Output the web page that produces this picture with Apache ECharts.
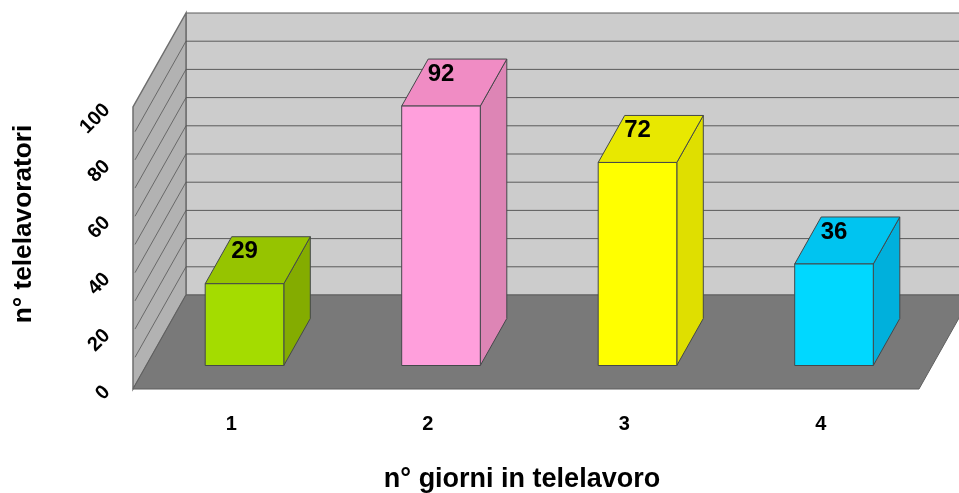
<!DOCTYPE html>
<html><head><meta charset="utf-8">
<style>html,body{margin:0;padding:0;background:#fff}#c{width:959px;height:493px}</style>
<script src="https://cdn.jsdelivr.net/npm/echarts@6/dist/echarts.min.js"></script>
</head><body><div id="c"></div>
<script>
const categories = ['1','2','3','4'];
const values = [29,92,72,36];
const frontColors = ['#a4dc00','#ff9fdc','#ffff00','#00d8ff'];
const topColors = ['#96c400','#f08cc4','#e8e800','#00c4f0'];
const sideColors = ['#84ac00','#dd85b5','#dfdf00','#00b0dc'];
const wallLevels = [0,10,20,30,40,50,60,70,80,90,100];
const xTitle = 'n° giorni in telelavoro';
const yTitle = 'n° telelavoratori';
const FONT = '"Liberation Sans", Arial, sans-serif';
const DX = 53, DY = 94;           // oblique projection of the full depth
const EDGE = '#44484a';

const chart = echarts.init(document.getElementById('c'), null, {renderer:'canvas'});

function renderWalls(params, api){
  const band = api.size([1,0])[0];
  const x0 = api.coord([0,0])[0]-band/2;
  const x1 = api.coord([3,0])[0]+band/2;
  const y0 = api.coord([0,0])[1];
  const yT = api.coord([0,100])[1];
  const kids = [];
  // back wall
  kids.push({type:'polygon',shape:{points:[[x0+DX,y0-DY],[x1+DX,y0-DY],[x1+DX,yT-DY],[x0+DX,yT-DY]]},style:{fill:'#cccccc',stroke:'#5a5a5a',lineWidth:1}});
  // left wall
  kids.push({type:'polygon',shape:{points:[[x0,y0],[x0+DX,y0-DY],[x0+DX,yT-DY],[x0,yT]]},style:{fill:'#b2b2b2',stroke:'#6e6e6e',lineWidth:1.5}});
  // grid lines
  wallLevels.forEach(v=>{
    const y = api.coord([0,v])[1];
    if(v>0 && v<100){
      kids.push({type:'line',shape:{x1:x0+DX,y1:y-DY,x2:x1+DX,y2:y-DY},style:{stroke:'#5a5a5a',lineWidth:1}});
      kids.push({type:'line',shape:{x1:x0+DX,y1:y-DY,x2:x0+2,y2:y-2*DY/DX},style:{stroke:'#555',lineWidth:0.8}});
    }
  });
  // floor
  kids.push({type:'polygon',shape:{points:[[x0,y0],[x1,y0],[x1+DX,y0-DY],[x0+DX,y0-DY]]},style:{fill:'#797979',stroke:'#5f5f5f',lineWidth:1}});
  return {type:'group',children:kids};
}

function renderBar(params, api){
  const i = params.dataIndex;
  const cat = api.value(0), val = api.value(1);
  const band = api.size([1,0])[0];
  const w = band*0.4;
  const ox = DX/4, oy = DY/4;
  const dx = DX/2, dy = DY/2;
  const c = api.coord([cat,val]);
  const b = api.coord([cat,0]);
  const l = c[0]-w/2+ox, r = c[0]+w/2+ox, t = c[1]-oy, bot = b[1]-oy;
  const st = col=>({fill:col,stroke:EDGE,lineWidth:1});
  return {type:'group',children:[
    {type:'polygon',shape:{points:[[r,t],[r+dx,t-dy],[r+dx,bot-dy],[r,bot]]},style:st(sideColors[i])},
    {type:'polygon',shape:{points:[[l,t],[l+dx,t-dy],[r+dx,t-dy],[r,t]]},style:st(topColors[i])},
    {type:'rect',shape:{x:l,y:t,width:w,height:bot-t},style:st(frontColors[i])},
    {type:'text',style:{text:String(val),x:(l+r)/2,y:t-32,align:'center',verticalAlign:'middle',fill:'#000',font:'bold 24px '+FONT}}
  ]};
}

chart.setOption({
  animation:false,
  backgroundColor:'#fff',
  grid:{left:133,right:40,top:107,bottom:104,containLabel:false,outerBoundsMode:'none'},
  xAxis:{type:'category',data:categories,
    axisLine:{show:false},axisTick:{show:false},splitLine:{show:false},
    axisLabel:{fontFamily:FONT,fontWeight:'bold',fontSize:20,color:'#000',margin:25},
    name:xTitle,nameLocation:'middle',nameGap:77,
    nameTextStyle:{fontFamily:FONT,fontWeight:'bold',fontSize:27,color:'#000',padding:[0,8,0,0]}},
  yAxis:{type:'value',min:0,max:100,interval:20,
    axisLine:{show:false},axisTick:{show:false},splitLine:{show:false},
    axisLabel:{fontFamily:FONT,fontWeight:'bold',fontSize:20,color:'#000',rotate:45,margin:26,padding:[12,0,0,0]},
    name:yTitle,nameLocation:'middle',nameGap:96,nameRotate:90,
    nameTextStyle:{fontFamily:FONT,fontWeight:'bold',fontSize:26.25,color:'#000',padding:[0,0,0,48]}},
  series:[
    {type:'custom',coordinateSystem:'cartesian2d',renderItem:renderWalls,data:[[0,0]],clip:false,silent:true,z:1},
    {type:'custom',coordinateSystem:'cartesian2d',renderItem:renderBar,
     encode:{x:0,y:1},data:values.map((v,i)=>[i,v]),clip:false,z:2}
  ]
});
</script></body></html>
